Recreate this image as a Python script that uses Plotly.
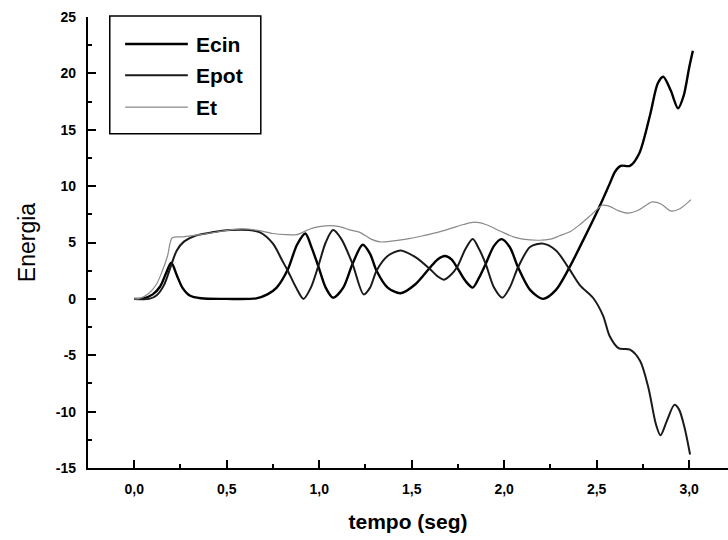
import plotly.graph_objects as go

# ---- data ----
t_ecin = [0.00, 0.05, 0.10, 0.14, 0.17, 0.20, 0.23, 0.26, 0.30, 0.36, 0.50, 0.66, 0.72, 0.77, 0.83, 0.88,
          0.925, 0.96, 0.995, 1.035, 1.075, 1.13, 1.18, 1.235, 1.275, 1.31, 1.37, 1.44, 1.52, 1.595,
          1.64, 1.68, 1.715, 1.745, 1.79, 1.83, 1.865, 1.90, 1.945, 1.985, 2.03, 2.075, 2.14, 2.21,
          2.28, 2.35, 2.43, 2.51, 2.57, 2.60, 2.63, 2.68, 2.73, 2.79, 2.83, 2.86, 2.90, 2.94, 2.97,
          3.00, 3.02]
ecin = [0.0, 0.05, 0.4, 1.1, 2.2, 3.2, 2.1, 1.0, 0.3, 0.05, 0.0, 0.05, 0.4, 1.0, 2.6, 4.8,
        5.8, 4.5, 2.9, 1.0, 0.1, 1.0, 3.1, 4.8, 4.0, 2.5, 1.0, 0.5, 1.3, 2.7,
        3.5, 3.8, 3.5, 2.8, 1.6, 1.0, 1.9, 3.1, 4.7, 5.3, 4.6, 2.8, 0.8, 0.0,
        0.8, 2.7, 5.3, 8.0, 10.2, 11.3, 11.8, 11.8, 12.9, 16.4, 19.1, 19.7, 18.5, 16.9, 18.0,
        20.5, 22.0]

t_epot = [0.00, 0.08, 0.12, 0.16, 0.20, 0.23, 0.27, 0.33, 0.42, 0.52, 0.62, 0.68, 0.75, 0.80, 0.83,
          0.875, 0.915, 0.955, 0.995, 1.035, 1.075, 1.12, 1.18, 1.24, 1.275, 1.31, 1.37, 1.44, 1.52,
          1.595, 1.64, 1.675, 1.71, 1.745, 1.79, 1.83, 1.865, 1.90, 1.945, 1.99, 2.03, 2.075, 2.14,
          2.21, 2.28, 2.35, 2.41, 2.48, 2.535, 2.57, 2.62, 2.68, 2.735, 2.78, 2.82, 2.845, 2.88,
          2.92, 2.945, 2.975, 3.005]
epot = [0.0, 0.0, 0.3, 1.2, 3.0, 4.3, 5.1, 5.6, 5.9, 6.1, 6.1, 5.9, 4.9, 3.4, 2.5,
        1.0, 0.0, 1.0, 2.9, 5.0, 6.1, 5.3, 3.1, 0.4, 1.0, 2.5, 3.8, 4.3, 3.7,
        2.7, 2.0, 1.7, 2.1, 2.8, 4.4, 5.3, 4.4, 3.1, 1.0, 0.1, 1.0, 2.8, 4.6,
        4.9, 4.3, 2.7, 1.2, 0.1, -1.5, -3.3, -4.4, -4.5, -5.5, -7.9, -11.1, -12.1, -10.8,
        -9.4, -9.8, -11.4, -13.8]

t_et = [0.0, 0.03, 0.08, 0.12, 0.15, 0.18, 0.205, 0.26, 0.36, 0.47, 0.58, 0.66, 0.75, 0.82, 0.88,
        0.95, 1.0, 1.06, 1.11, 1.17, 1.22, 1.28, 1.33, 1.38, 1.47, 1.56, 1.64, 1.72, 1.78, 1.84,
        1.90, 1.98, 2.05, 2.10, 2.19, 2.25, 2.30, 2.36, 2.41, 2.46, 2.50, 2.53, 2.57, 2.62, 2.67,
        2.73, 2.80, 2.85, 2.90, 2.95, 3.01]
et = [0.0, 0.05, 0.5, 1.3, 2.4, 3.8, 5.4, 5.5, 5.7, 6.0, 6.2, 6.1, 5.8, 5.7, 5.7,
      6.2, 6.4, 6.5, 6.4, 6.1, 5.9, 5.3, 5.05, 5.1, 5.3, 5.6, 5.9, 6.3, 6.6, 6.8,
      6.6, 6.0, 5.5, 5.3, 5.2, 5.3, 5.6, 6.0, 6.6, 7.3, 7.9, 8.3, 8.2, 7.8, 7.6,
      7.9, 8.6, 8.4, 7.8, 8.0, 8.8]

series_names = ["Ecin", "Epot", "Et"]
series_colors = ["#000000", "#1a1a1a", "#8a8a8a"]
series_widths = [2.4, 2.0, 1.2]

x_ticks = [0.0, 0.5, 1.0, 1.5, 2.0, 2.5, 3.0]
x_tick_labels = ["0,0", "0,5", "1,0", "1,5", "2,0", "2,5", "3,0"]
y_ticks = [-15, -10, -5, 0, 5, 10, 15, 20, 25]
y_tick_labels = ["-15", "-10", "-5", "0", "5", "10", "15", "20", "25"]

FONT = "Liberation Sans, Arial, sans-serif"

fig = go.Figure()
for name, tx, ty, col, w in zip(series_names, [t_ecin, t_epot, t_et], [ecin, epot, et],
                                series_colors, series_widths):
    fig.add_trace(go.Scatter(x=tx, y=ty, mode="lines", name=name,
                             line=dict(color=col, width=w, shape="spline", smoothing=0.8),
                             showlegend=False))

# legend drawn as a boxed key (as in the original Origin plot)
fig.add_shape(type="rect", xref="paper", yref="paper", x0=0.034, x1=0.270, y0=0.741, y1=1.002,
              line=dict(color="black", width=1.5), fillcolor="white", layer="above")
leg_y = [0.940, 0.871, 0.800]
for name, col, w, yy in zip(series_names, series_colors, series_widths, leg_y):
    fig.add_shape(type="line", xref="paper", yref="paper", x0=0.058, x1=0.156, y0=yy, y1=yy,
                  line=dict(color=col, width=w), layer="above")
    fig.add_annotation(xref="paper", yref="paper", x=0.166, y=yy, text="<b>%s</b>" % name,
                       showarrow=False, xanchor="left", yanchor="middle",
                       font=dict(family=FONT, size=21, color="black"))

axis_common = dict(showline=True, linecolor="black", linewidth=2.2, mirror=False,
                   ticks="inside", tickcolor="black", tickwidth=1.6, ticklen=8,
                   showgrid=False, zeroline=False,
                   tickfont=dict(family=FONT, size=14, color="black", weight="bold"))

fig.update_xaxes(range=[-0.25, 3.21], tickvals=x_ticks, ticktext=x_tick_labels,
                 minor=dict(dtick=0.25, tick0=0, ticks="inside", ticklen=4, tickcolor="black",
                            tickwidth=1.6),
                 title=dict(text="<b>tempo (seg)</b>",
                            font=dict(family=FONT, size=21, color="black"), standoff=18),
                 ticklabelstandoff=7, **axis_common)
fig.update_yaxes(range=[-15, 25], tickvals=y_ticks, ticktext=y_tick_labels,
                 minor=dict(dtick=2.5, tick0=0, ticks="inside", ticklen=4, tickcolor="black",
                            tickwidth=1.6),
                 title=dict(text="Energia", font=dict(family=FONT, size=23, color="black"),
                            standoff=14),
                 ticklabelstandoff=7, **axis_common)

fig.update_layout(width=728, height=540, autosize=False,
                  margin=dict(l=88, r=0, t=17, b=72),
                  paper_bgcolor="white", plot_bgcolor="white",
                  font=dict(family=FONT, color="black"))

fig.write_html("out.html")
